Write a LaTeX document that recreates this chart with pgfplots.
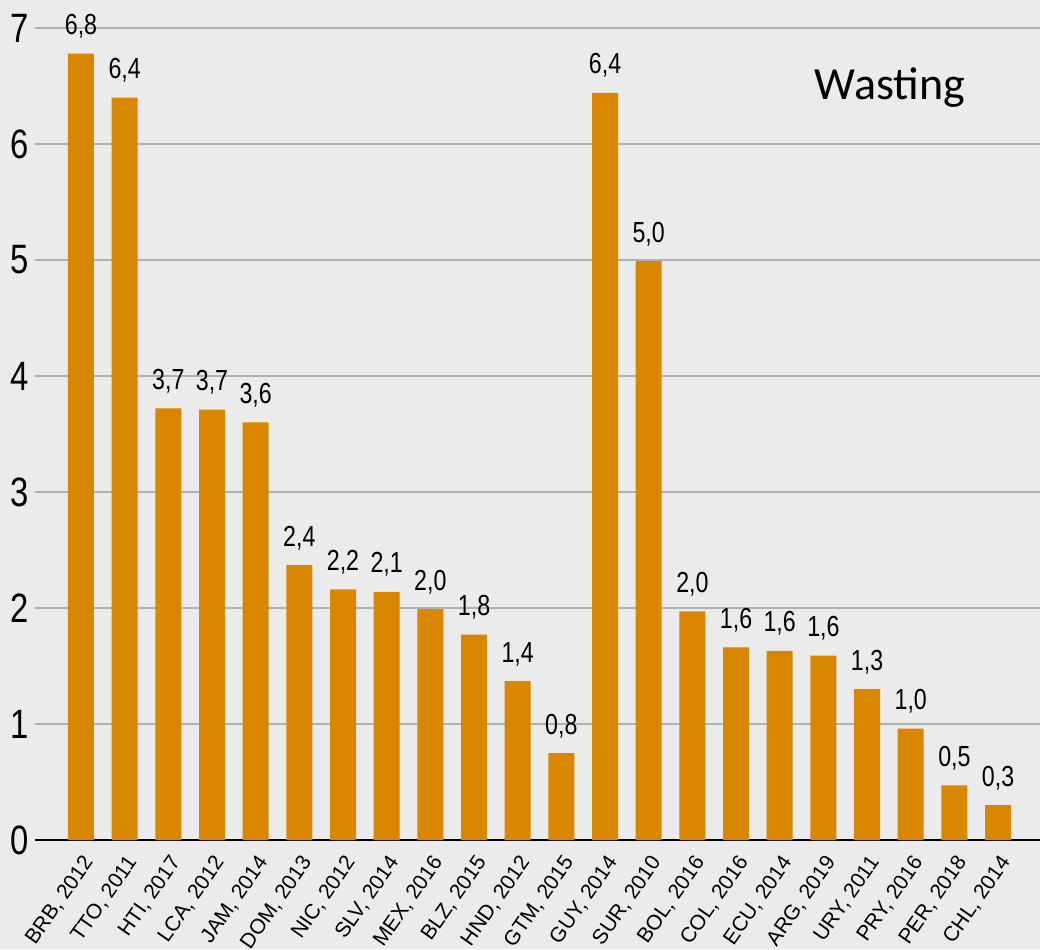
\documentclass[border=0pt]{standalone}
\usepackage{pgfplots}
\pgfplotsset{compat=1.18}
\usepackage{pgfplotstable}
\usepackage{fontspec}
\setmainfont{Liberation Sans}
\newfontfamily\cond{Liberation Sans}[FakeStretch=0.8]
\newfontfamily\calib{Carlito}
\definecolor{bgc}{HTML}{EBEBEB}
\definecolor{gridc}{HTML}{ACB3B3}
\definecolor{barc}{HTML}{D98700}
\pgfplotstableread{
x y lab
0 6.78 6,8
1 6.40 6,4
2 3.72 3,7
3 3.71 3,7
4 3.60 3,6
5 2.37 2,4
6 2.16 2,2
7 2.14 2,1
8 1.99 2,0
9 1.77 1,8
10 1.37 1,4
11 0.75 0,8
12 6.44 6,4
13 4.99 5,0
14 1.97 2,0
15 1.66 1,6
16 1.63 1,6
17 1.59 1,6
18 1.30 1,3
19 0.96 1,0
20 0.47 0,5
21 0.30 0,3
}\wasting
\begin{document}
\begin{tikzpicture}
\path[use as bounding box, fill=bgc] (0,0) rectangle (520pt,474.5pt);
\begin{axis}[
  at={(17.5pt,54.5pt)}, anchor=south west,
  scale only axis, width=502.5pt, height=406pt,
  xmin=-1.053, xmax=21.96, ymin=0, ymax=7,
  axis x line*=bottom, axis y line*=left,
  y axis line style={draw=none},
  x axis line style={black, line width=1pt},
  major tick length=0pt,
  ytick={0,1,...,7},
  ymajorgrids, major grid style={color=gridc, line width=1.4pt},
  /pgf/number format/assume math mode=true,
  yticklabel style={font=\cond\fontsize{20.5}{22}\selectfont, anchor=east, inner sep=0pt, xshift=-3pt},
  xtick={0,...,21},
  xticklabels={{BRB, 2012},{TTO, 2011},{HTI, 2017},{LCA, 2012},{JAM, 2014},{DOM, 2013},{NIC, 2012},{SLV, 2014},{MEX, 2016},{BLZ, 2015},{HND, 2012},{GTM, 2015},{GUY, 2014},{SUR, 2010},{BOL, 2016},{COL, 2016},{ECU, 2014},{ARG, 2019},{URY, 2011},{PRY, 2016},{PER, 2018},{CHL, 2014}},
  xticklabel style={font=\fontsize{10.5}{12}\selectfont, rotate=55, anchor=base east, inner sep=0pt, xshift=-5.3pt, yshift=-11.6pt},
  point meta=explicit symbolic,
  nodes near coords,
  every node near coord/.append style={font=\cond\fontsize{14.5}{16}\selectfont, inner sep=0pt, anchor=base, yshift=9.5pt},
]
\addplot[ybar, bar width=13pt, fill=barc, draw=none, bar shift=0pt] table[x=x, y=y, meta=lab] {\wasting};
\end{axis}
\node[anchor=base, font=\calib\fontsize{23}{26}\selectfont] at (445pt,424.5pt) {Wasting};
\end{tikzpicture}
\end{document}
